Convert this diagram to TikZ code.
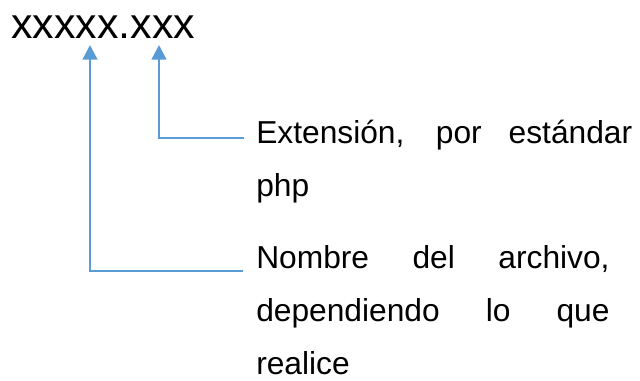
\documentclass[tikz,border=0pt]{standalone}
\usepackage{fontspec}
\setmainfont{Liberation Sans}
\usetikzlibrary{arrows.meta}
\definecolor{linkblue}{HTML}{5B9BD5}
\tikzset{
  conn/.style={draw=linkblue, line width=1.8pt, -{Triangle[length=11pt,width=11pt]}},
  titletxt/.style={inner sep=0pt, anchor=base west, font=\fontsize{32.2pt}{36pt}\selectfont},
  bodytxt/.style={inner sep=0pt, anchor=base west, font=\fontsize{23.8pt}{28pt}\selectfont}
}
\begin{document}
\begin{tikzpicture}[x=0.75pt, y=-0.75pt]
\useasboundingbox (0,0) rectangle (640,381);
\node[titletxt] (title) at (11,39) {xxxxx.xxx};
% paragraph 1
\node[bodytxt] (p1a) at (256,144) {\makebox[282pt][s]{Extensión, por estándar}};
\node[bodytxt] (p1b) at (256,197) {php};
% paragraph 2
\node[bodytxt] (p2a) at (256,269) {\makebox[265pt][s]{Nombre del archivo,}};
\node[bodytxt] (p2b) at (256,322) {\makebox[265pt][s]{dependiendo lo que}};
\node[bodytxt] (p2c) at (256,374) {realice};
% connector ends
\coordinate (e1) at (244,138);
\coordinate (e2) at (243,271);
\coordinate (t1) at (159,45);
\coordinate (t2) at (90,45);
\draw[conn] (e1) -| (t1);
\draw[conn] (e2) -| (t2);
\end{tikzpicture}
\end{document}
